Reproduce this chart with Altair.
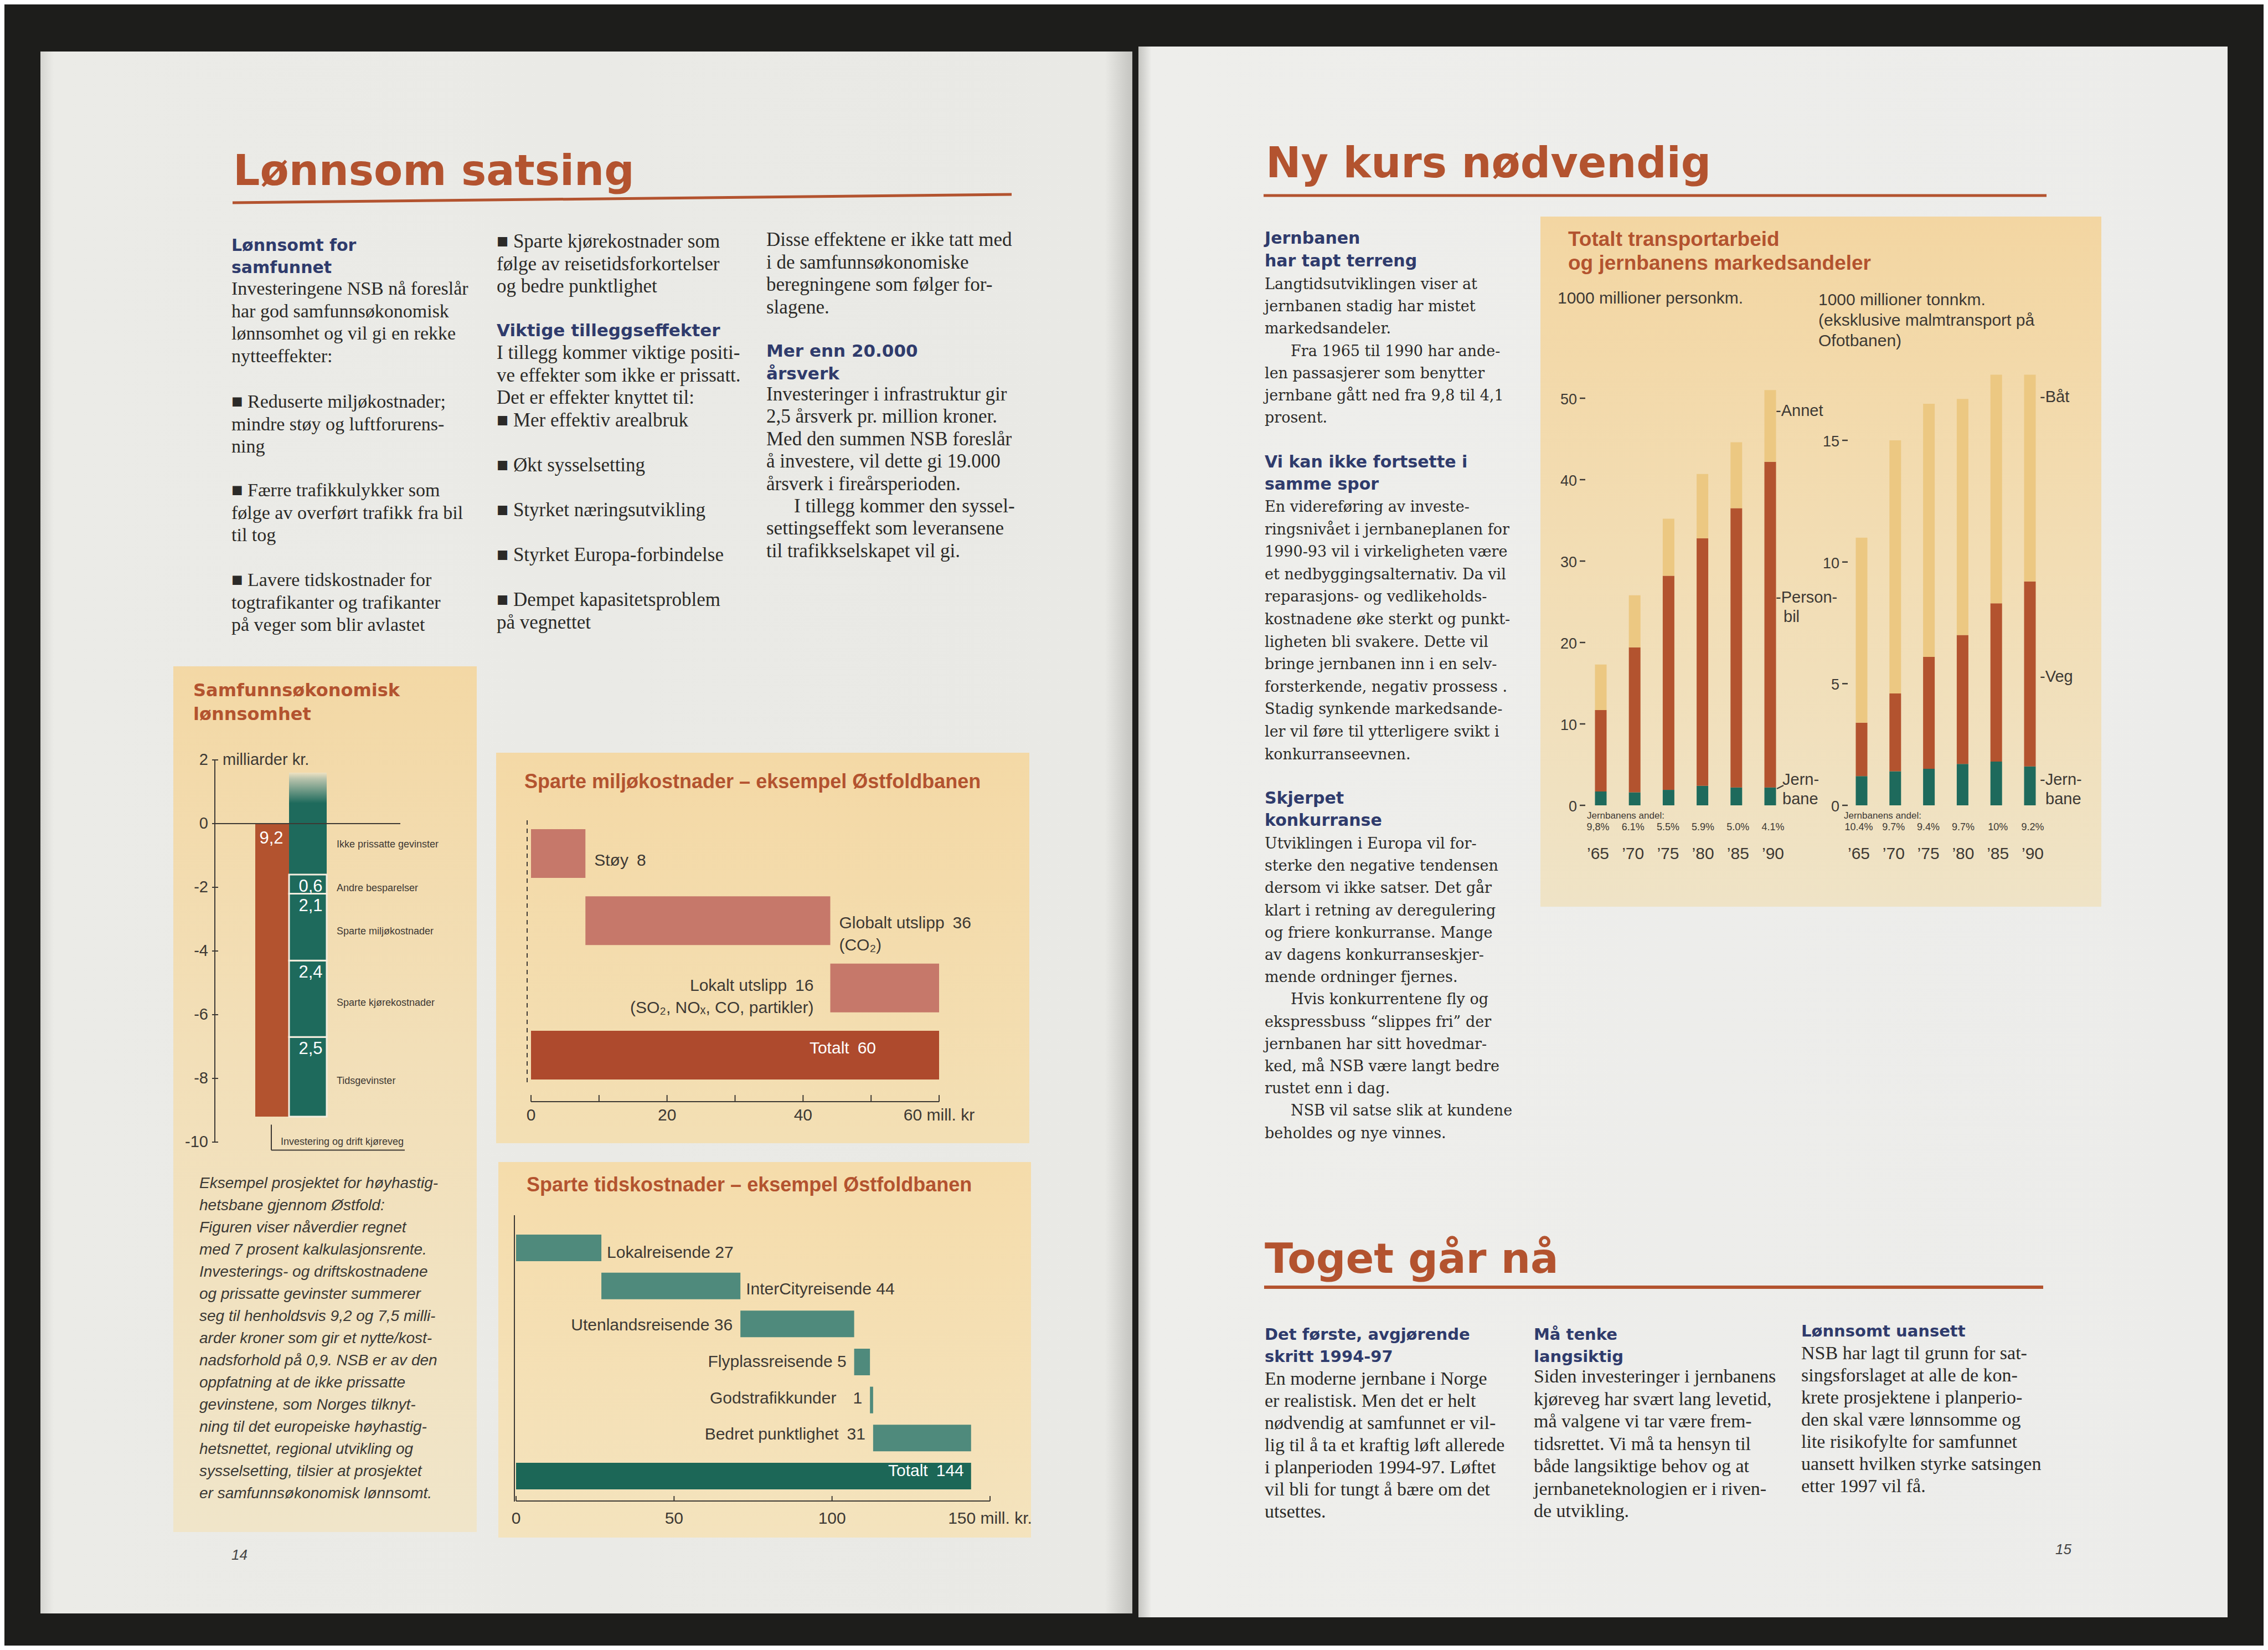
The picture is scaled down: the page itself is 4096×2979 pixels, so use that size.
import altair as alt
import pandas as pd

OFF = 8  # page margin of the html page


def P(v):
    return v - OFF


# ---------------- colours / fonts ----------------
BACK = "#1d1d1b"
RED = "#b3532f"
TEAL = "#1e6a5c"
TAN = "#ecc882"
NAVY = "#2f3b6c"
INK = "#2b2a28"
CH_INK = "#3d3934"
ENV_LIGHT = "#c6786a"
ENV_DARK = "#ae4a2d"
TIME_LIGHT = "#4f8a7c"
TIME_DARK = "#1c6757"
SEP = "#f6eedf"

HEAD_FONT = "DejaVu Sans"
BODY_FONT = "Liberation Serif"
WIDE_SERIF = "DejaVu Serif"
CH_FONT = "Liberation Sans"

# ---------------- data: Samfunnsøkonomisk lønnsomhet ----------------
cost_label = "Investering og drift kjøreveg"
cost_value = 9.2
cost_value_label = "9,2"
benefit_names = ["Tidsgevinster", "Sparte kjørekostnader", "Sparte miljøkostnader", "Andre besparelser"]
benefit_values = [2.5, 2.4, 2.1, 0.6]
benefit_value_labels = ["2,5", "2,4", "2,1", "0,6"]
unpriced_name = "Ikke prissatte gevinster"
unpriced_top = 1.6  # top of the fading (unpriced) part, estimated
samf_ticks = [2, 0, -2, -4, -6, -8, -10]
samf_unit = "milliarder kr."

# ---------------- data: Sparte miljøkostnader ----------------
env_cats = ["Støy", "Globalt utslipp", "Lokalt utslipp", "Totalt"]
env_values = [8, 36, 16, 60]
env_labels = ["Støy\u20028", "Globalt utslipp\u200236\n(CO\u2082)",
              "Lokalt utslipp\u200216\n(SO\u2082, NO\u2093, CO, partikler)", "Totalt\u200260"]
env_ticks = [0, 10, 20, 30, 40, 50, 60]
env_tick_labels = ["0", "", "20", "", "40", "", "60 mill. kr"]

# ---------------- data: Sparte tidskostnader ----------------
time_cats = ["Lokalreisende", "InterCityreisende", "Utenlandsreisende", "Flyplassreisende",
             "Godstrafikkunder", "Bedret punktlighet", "Totalt"]
time_values = [27, 44, 36, 5, 1, 31, 144]
time_labels = ["Lokalreisende 27", "InterCityreisende 44", "Utenlandsreisende 36", "Flyplassreisende 5",
               "Godstrafikkunder\u2002\u20021", "Bedret punktlighet\u200231", "Totalt\u2002144"]
time_ticks = [0, 50, 100, 150]
time_tick_labels = ["0", "50", "100", "150 mill. kr."]

# ---------------- data: Totalt transportarbeid ----------------
years = [1965, 1970, 1975, 1980, 1985, 1990]
year_labels = ["\u201965", "\u201970", "\u201975", "\u201980", "\u201985", "\u201990"]
pkm_rail = [1.7, 1.6, 1.9, 2.4, 2.2, 2.2]
pkm_car = [10.0, 17.8, 26.3, 30.4, 34.3, 40.0]
pkm_other = [5.6, 6.4, 7.0, 7.9, 8.1, 8.8]
pkm_share = ["9,8%", "6.1%", "5.5%", "5.9%", "5.0%", "4.1%"]
tkm_rail = [1.2, 1.4, 1.5, 1.7, 1.8, 1.6]
tkm_road = [2.2, 3.2, 4.6, 5.3, 6.5, 7.6]
tkm_boat = [7.6, 10.4, 10.4, 9.7, 9.4, 8.5]
tkm_share = ["10.4%", "9.7%", "9.4%", "9.7%", "10%", "9.2%"]
pkm_ticks = [0, 10, 20, 30, 40, 50]
tkm_ticks = [0, 5, 10, 15]
pkm_series = ["Jernbane", "Personbil", "Annet"]
tkm_series = ["Jernbane", "Veg", "Båt"]

# ---------------- page text ----------------
left_title = "Lønnsom satsing"
right_title = "Ny kurs nødvendig"
bottom_title = "Toget går nå"

c1_head = ["Lønnsomt for", "samfunnet"]
c1_body = ["Investeringene NSB nå foreslår", "har god samfunnsøkonomisk",
           "lønnsomhet og vil gi en rekke", "nytteeffekter:"]
c1_b1 = ["\u25A0 Reduserte miljøkostnader;", "mindre støy og luftforurens-", "ning"]
c1_b2 = ["\u25A0 Færre trafikkulykker som", "følge av overført trafikk fra bil", "til tog"]
c1_b3 = ["\u25A0 Lavere tidskostnader for", "togtrafikanter og trafikanter", "på veger som blir avlastet"]

c2_b1 = ["\u25A0 Sparte kjørekostnader som", "følge av reisetidsforkortelser", "og bedre punktlighet"]
c2_head = ["Viktige tilleggseffekter"]
c2_body = ["I tillegg kommer viktige positi-", "ve effekter som ikke er prissatt.",
           "Det er effekter knyttet til:", "\u25A0 Mer effektiv arealbruk"]
c2_b2 = ["\u25A0 Økt sysselsetting"]
c2_b3 = ["\u25A0 Styrket næringsutvikling"]
c2_b4 = ["\u25A0 Styrket Europa-forbindelse"]
c2_b5 = ["\u25A0 Dempet kapasitetsproblem", "på vegnettet"]

c3_body1 = ["Disse effektene er ikke tatt med", "i de samfunnsøkonomiske",
            "beregningene som følger for-", "slagene."]
c3_head = ["Mer enn 20.000", "årsverk"]
c3_body2 = ["Investeringer i infrastruktur gir", "2,5 årsverk pr. million kroner.",
            "Med den summen NSB foreslår", "å investere, vil dette gi 19.000",
            "årsverk i fireårsperioden.", "I tillegg kommer den syssel-",
            "settingseffekt som leveransene", "til trafikkselskapet vil gi."]
c3_body2_indent = {5}

caption = ["Eksempel prosjektet for høyhastig-", "hetsbane gjennom Østfold:",
           "Figuren viser nåverdier regnet", "med 7 prosent kalkulasjonsrente.",
           "Investerings- og driftskostnadene", "og prissatte gevinster summerer",
           "seg til henholdsvis 9,2 og 7,5 milli-", "arder kroner som gir et nytte/kost-",
           "nadsforhold på 0,9. NSB er av den", "oppfatning at de ikke prissatte",
           "gevinstene, som Norges tilknyt-", "ning til det europeiske høyhastig-",
           "hetsnettet, regional utvikling og", "sysselsetting, tilsier at prosjektet",
           "er samfunnsøkonomisk lønnsomt."]

r_head1 = ["Jernbanen", "har tapt terreng"]
r_body1 = ["Langtidsutviklingen viser at", "jernbanen stadig har mistet", "markedsandeler.",
           "Fra 1965 til 1990 har ande-", "len passasjerer som benytter",
           "jernbane gått ned fra 9,8 til 4,1", "prosent."]
r_body1_indent = {3}
r_head2 = ["Vi kan ikke fortsette i", "samme spor"]
r_body2 = ["En videreføring av investe-", "ringsnivået i jernbaneplanen for",
           "1990-93 vil i virkeligheten være", "et nedbyggingsalternativ. Da vil",
           "reparasjons- og vedlikeholds-", "kostnadene øke sterkt og punkt-",
           "ligheten bli svakere. Dette vil", "bringe jernbanen inn i en selv-",
           "forsterkende, negativ prossess .", "Stadig synkende markedsande-",
           "ler vil føre til ytterligere svikt i", "konkurranseevnen."]
r_head3 = ["Skjerpet", "konkurranse"]
r_body3 = ["Utviklingen i Europa vil for-", "sterke den negative tendensen",
           "dersom vi ikke satser. Det går", "klart i retning av deregulering",
           "og friere konkurranse. Mange", "av dagens konkurranseskjer-",
           "mende ordninger fjernes.", "Hvis konkurrentene fly og",
           "ekspressbuss \u201cslippes fri\u201d der", "jernbanen har sitt hovedmar-",
           "ked, må NSB være langt bedre", "rustet enn i dag.",
           "NSB vil satse slik at kundene", "beholdes og nye vinnes."]
r_body3_indent = {7, 12}

b1_head = ["Det første, avgjørende", "skritt 1994-97"]
b1_body = ["En moderne jernbane i Norge", "er realistisk. Men det er helt",
           "nødvendig at samfunnet er vil-", "lig til å ta et kraftig løft allerede",
           "i planperioden 1994-97. Løftet", "vil bli for tungt å bære om det", "utsettes."]
b2_head = ["Må tenke", "langsiktig"]
b2_body = ["Siden investeringer i jernbanens", "kjøreveg har svært lang levetid,",
           "må valgene vi tar være frem-", "tidsrettet. Vi må ta hensyn til",
           "både langsiktige behov og at", "jernbaneteknologien er i riven-", "de utvikling."]
b3_head = ["Lønnsomt uansett"]
b3_body = ["NSB har lagt til grunn for sat-", "singsforslaget at alle de kon-",
           "krete prosjektene i planperio-", "den skal være lønnsomme og",
           "lite risikofylte for samfunnet", "uansett hvilken styrke satsingen", "etter 1997 vil få."]

# ---------------- helpers ----------------
ONE = pd.DataFrame({"a": [0]})
layers = []


def grad(stops, vertical=True):
    return alt.Gradient(gradient="linear",
                        stops=[alt.GradientStop(color=c, offset=o) for o, c in stops],
                        x1=0, y1=0, x2=0 if vertical else 1, y2=1 if vertical else 0)


def box(x1, y1, x2, y2, color):
    layers.append(alt.Chart(ONE).mark_rect(color=color).encode(
        x=alt.value(P(x1)), x2=alt.value(P(x2)), y=alt.value(P(y1)), y2=alt.value(P(y2))))


def block(lines, x, y, size, font=BODY_FONT, color=INK, weight="normal", style="normal",
          lh=40.5, align="left", baseline="alphabetic"):
    df = pd.DataFrame({"t": ["\n".join(lines)]})
    layers.append(alt.Chart(df).mark_text(
        font=font, fontSize=size, color=color, fontWeight=weight, fontStyle=style,
        align=align, baseline=baseline, lineBreak="\n", lineHeight=lh).encode(
        x=alt.value(P(x)), y=alt.value(P(y)), text="t:N"))


def para(lines, x, y, size, indent_lines=(), indent=48, lh=40.5, **kw):
    i = 0
    while i < len(lines):
        ind = i in indent_lines
        j = i
        while j < len(lines) and ((j in indent_lines) == ind):
            j += 1
        block(lines[i:j], x + (indent if ind else 0), y + i * lh, size, lh=lh, **kw)
        i = j


def line(x1, y1, x2, y2, color, w):
    layers.append(alt.Chart(ONE).mark_rule(color=color, strokeWidth=w).encode(
        x=alt.value(P(x1)), x2=alt.value(P(x2)), y=alt.value(P(y1)), y2=alt.value(P(y2))))


# ---------------- pages ----------------
box(73, 93, 2045, 2913, grad([(0, "#d5d5d1"), (0.012, "#ebebe7"), (0.975, "#e9e9e5"), (1, "#c4c4c0")], vertical=False))
box(2056, 84, 4023, 2920, grad([(0, "#c4c4c0"), (0.012, "#eeeeeb"), (1, "#ececea")], vertical=False))

# titles
block([left_title], 421, 334, 76, font=HEAD_FONT, color=RED, weight="bold")
line(420, 366, 1827, 351, RED, 5)
block([right_title], 2286, 320, 76, font=HEAD_FONT, color=RED, weight="bold")
line(2282, 353, 3696, 353, RED, 5)
block([bottom_title], 2284, 2298, 75, font=HEAD_FONT, color=RED, weight="bold")
line(2283, 2324, 3690, 2324, RED, 6)

# left page text columns
block(c1_head, 418, 453, 30, font=HEAD_FONT, color=NAVY, weight="bold", lh=40)
block(c1_body, 418, 532, 34)
block(c1_b1, 418, 736, 34)
block(c1_b2, 418, 896, 34)
block(c1_b3, 418, 1058, 34)

block(c2_b1, 897, 447, 35)
block(c2_head, 897, 607, 31, font=HEAD_FONT, color=NAVY, weight="bold")
block(c2_body, 897, 648, 35)
block(c2_b2, 897, 851, 35)
block(c2_b3, 897, 932, 35)
block(c2_b4, 897, 1013, 35)
block(c2_b5, 897, 1094, 35)

block(c3_body1, 1384, 444, 35)
block(c3_head, 1384, 644, 31, font=HEAD_FONT, color=NAVY, weight="bold", lh=41)
para(c3_body2, 1384, 723, 35, indent_lines=c3_body2_indent, indent=50, lh=40.4)

# right page column
block(r_head1, 2284, 440, 30, font=HEAD_FONT, color=NAVY, weight="bold", lh=41)
para(r_body1, 2284, 522, 27, indent_lines=r_body1_indent, indent=47, font=WIDE_SERIF, lh=40.2)
block(r_head2, 2284, 844, 30, font=HEAD_FONT, color=NAVY, weight="bold", lh=40)
para(r_body2, 2284, 924, 27, font=WIDE_SERIF, lh=40.6)
block(r_head3, 2284, 1451, 30, font=HEAD_FONT, color=NAVY, weight="bold", lh=40)
para(r_body3, 2284, 1532, 27, indent_lines=r_body3_indent, indent=47, font=WIDE_SERIF, lh=40.2)

# bottom columns
block(b1_head, 2284, 2419, 29, font=HEAD_FONT, color=NAVY, weight="bold", lh=40)
block(b1_body, 2284, 2500, 34, lh=40)
block(b2_head, 2770, 2419, 29, font=HEAD_FONT, color=NAVY, weight="bold", lh=40)
block(b2_body, 2770, 2496, 34, lh=40.5)
block(b3_head, 3253, 2413, 29, font=HEAD_FONT, color=NAVY, weight="bold")
block(b3_body, 3253, 2454, 34, lh=40)

# page numbers
block(["14"], 418, 2816, 26, font=CH_FONT, style="italic", color="#444")
block(["15"], 3712, 2806, 26, font=CH_FONT, style="italic", color="#444")

# ---------------- panels ----------------
box(313, 1203, 861, 2766, grad([(0, "#f3d8a5"), (0.45, "#f2dfb8"), (1, "#f0e5c9")]))
box(896, 1359, 1859, 2064, grad([(0, "#f4d9a6"), (1, "#f3dfb4")]))
box(900, 2098, 1862, 2776, grad([(0, "#f5dcab"), (1, "#f4e3bd")]))
box(2782, 391, 3795, 1637, grad([(0, "#f3d6a2"), (0.5, "#f2ddb4"), (1, "#efe3c6")]))

# ================= Samfunnsøkonomisk lønnsomhet =================
SX = alt.Scale(domain=[0, 1], range=[P(490), P(561)], nice=False, zero=False)
SY = alt.Scale(domain=[-10, 2], range=[P(2062), P(1372)], nice=False, zero=False)

block(["Samfunnsøkonomisk", "lønnsomhet"], 349, 1257, 32, font=HEAD_FONT, color=RED, weight="bold", lh=43)

tick_df = pd.DataFrame({"v": samf_ticks, "t": [str(v) for v in samf_ticks]})
layers.append(alt.Chart(pd.DataFrame({"a": [samf_ticks[0]], "b": [samf_ticks[-1]]})).mark_rule(
    color=CH_INK, strokeWidth=2).encode(x=alt.value(P(388)), y=alt.Y("a:Q", scale=SY, axis=None), y2="b:Q"))
layers.append(alt.Chart(tick_df).mark_rule(color=CH_INK, strokeWidth=2).encode(
    x=alt.value(P(383)), x2=alt.value(P(394)), y=alt.Y("v:Q", scale=SY, axis=None)))
layers.append(alt.Chart(tick_df).mark_text(font=CH_FONT, fontSize=29, color=CH_INK, align="right",
                                           baseline="middle").encode(
    x=alt.value(P(376)), y=alt.Y("v:Q", scale=SY, axis=None), text="t:N"))
layers.append(alt.Chart(pd.DataFrame({"v": [samf_ticks[0]], "t": [samf_unit]})).mark_text(
    font=CH_FONT, fontSize=29, color=CH_INK, align="left", baseline="middle").encode(
    x=alt.value(P(402)), y=alt.Y("v:Q", scale=SY, axis=None), text="t:N"))

# cost bar
cost_df = pd.DataFrame({"x": [0], "y0": [0.0], "y1": [-cost_value], "t": [cost_value_label]})
layers.append(alt.Chart(cost_df).mark_bar(size=68, color=RED).encode(
    x=alt.X("x:Q", scale=SX, axis=None), y=alt.Y("y0:Q", scale=SY, axis=None), y2="y1:Q"))
layers.append(alt.Chart(cost_df).mark_text(font=CH_FONT, fontSize=31, color="white", baseline="middle",
                                           dy=27).encode(
    x=alt.X("x:Q", scale=SX, axis=None), y=alt.Y("y0:Q", scale=SY, axis=None), text="t:N"))

# benefit stack
rows = []
bottom = -cost_value
for n, v, lab in zip(benefit_names, benefit_values, benefit_value_labels):
    rows.append({"x": 1, "name": n, "y0": bottom, "y1": bottom + v, "mid": bottom + v / 2, "lab": lab})
    bottom += v
ben_df = pd.DataFrame(rows)
unp_df = pd.DataFrame({"x": [1], "y0": [bottom], "y1": [unpriced_top], "name": [unpriced_name],
                       "mid": [bottom / 2]})
layers.append(alt.Chart(unp_df).mark_bar(size=68, color=grad([(0, "#efe2c2"), (0.06, "#b8c3ac"),
                                                              (0.3, TEAL), (1, TEAL)])).encode(
    x=alt.X("x:Q", scale=SX, axis=None), y=alt.Y("y1:Q", scale=SY, axis=None), y2="y0:Q"))
layers.append(alt.Chart(ben_df).mark_bar(size=68, color=TEAL, stroke=SEP, strokeWidth=3).encode(
    x=alt.X("x:Q", scale=SX, axis=None), y=alt.Y("y1:Q", scale=SY, axis=None), y2="y0:Q"))
layers.append(alt.Chart(ben_df).mark_text(font=CH_FONT, fontSize=31, color="white", baseline="middle",
                                          dy=22).encode(
    x=alt.X("x:Q", scale=SX, axis=None), y=alt.Y("y1:Q", scale=SY, axis=None), text="lab:N"))
layers.append(alt.Chart(ben_df).mark_text(font=CH_FONT, fontSize=18, color=CH_INK, align="left",
                                          baseline="middle", dx=47, dy=8).encode(
    x=alt.X("x:Q", scale=SX, axis=None), y=alt.Y("mid:Q", scale=SY, axis=None), text="name:N"))
layers.append(alt.Chart(unp_df).mark_text(font=CH_FONT, fontSize=18, color=CH_INK, align="left",
                                          baseline="middle", dx=47, dy=-8).encode(
    x=alt.X("x:Q", scale=SX, axis=None), y=alt.Y("mid:Q", scale=SY, axis=None), text="name:N"))

# zero line
layers.append(alt.Chart(pd.DataFrame({"v": [0]})).mark_rule(color=CH_INK, strokeWidth=2).encode(
    x=alt.value(P(388)), x2=alt.value(P(723)), y=alt.Y("v:Q", scale=SY, axis=None)))
# bracket for the cost label
layers.append(alt.Chart(pd.DataFrame({"x": [0], "a": [-9.45], "b": [-10.25]})).mark_rule(
    color=CH_INK, strokeWidth=2).encode(
    x=alt.X("x:Q", scale=SX, axis=None), y=alt.Y("a:Q", scale=SY, axis=None), y2="b:Q"))
layers.append(alt.Chart(pd.DataFrame({"x": [0], "b": [-10.25]})).mark_rule(
    color=CH_INK, strokeWidth=2).encode(
    x=alt.X("x:Q", scale=SX, axis=None), x2=alt.value(P(731)), y=alt.Y("b:Q", scale=SY, axis=None)))
layers.append(alt.Chart(pd.DataFrame({"x": [0], "v": [-10.0], "t": [cost_label]})).mark_text(
    font=CH_FONT, fontSize=18, color=CH_INK, align="left", baseline="middle", dx=17).encode(
    x=alt.X("x:Q", scale=SX, axis=None), y=alt.Y("v:Q", scale=SY, axis=None), text="t:N"))

block(caption, 360, 2145, 28, font=CH_FONT, style="italic", color="#3b3935", lh=40)

# ================= Sparte miljøkostnader =================
EX = alt.Scale(domain=[0, 60], range=[P(959), P(1696)], nice=False, zero=False)
EY = alt.Scale(domain=env_cats, range=[P(1497), P(1949)], paddingInner=0.275, paddingOuter=0)
block(["Sparte miljøkostnader \u2013 eksempel Østfoldbanen"], 947, 1423, 36, font=CH_FONT, color=RED,
      weight="bold")

starts, s = [], 0
for c, v in zip(env_cats, env_values):
    if c == "Totalt":
        starts.append(0)
    else:
        starts.append(s)
        s += v
env_df = pd.DataFrame({"cat": env_cats, "start": starts,
                       "end": [a + b for a, b in zip(starts, env_values)], "lab": env_labels})
env_parts = env_df[env_df.cat != "Totalt"]
env_tot = env_df[env_df.cat == "Totalt"]

layers.append(alt.Chart(pd.DataFrame({"a": [0]})).mark_rule(color=CH_INK, strokeWidth=2,
                                                            strokeDash=[8, 7]).encode(
    x=alt.value(P(952)), y=alt.value(P(1481)), y2=alt.value(P(1960))))
layers.append(alt.Chart(env_parts).mark_bar(color=ENV_LIGHT).encode(
    x=alt.X("start:Q", scale=EX, axis=None), x2="end:Q", y=alt.Y("cat:N", scale=EY, axis=None)))
layers.append(alt.Chart(env_tot).mark_bar(color=ENV_DARK).encode(
    x=alt.X("start:Q", scale=EX, axis=None), x2="end:Q", y=alt.Y("cat:N", scale=EY, axis=None)))
env_left = ["Støy", "Globalt utslipp"]
layers.append(alt.Chart(env_df[env_df.cat.isin(env_left)]).mark_text(
    font=CH_FONT, fontSize=30, color=CH_INK, align="left", baseline="middle", dx=16,
    lineBreak="\n", lineHeight=40).encode(
    x=alt.X("end:Q", scale=EX, axis=None), y=alt.Y("cat:N", scale=EY, axis=None), text="lab:N"))
layers.append(alt.Chart(env_df[env_df.cat == "Lokalt utslipp"]).mark_text(
    font=CH_FONT, fontSize=30, color=CH_INK, align="right", baseline="middle", dx=-30,
    lineBreak="\n", lineHeight=40).encode(
    x=alt.X("start:Q", scale=EX, axis=None), y=alt.Y("cat:N", scale=EY, axis=None), text="lab:N"))
layers.append(alt.Chart(env_tot).mark_text(
    font=CH_FONT, fontSize=30, color="white", align="right", baseline="middle", dx=-114).encode(
    x=alt.X("end:Q", scale=EX, axis=None), y=alt.Y("cat:N", scale=EY, axis=None), text="lab:N"))
# x axis
env_tick_df = pd.DataFrame({"v": env_ticks, "t": env_tick_labels})
layers.append(alt.Chart(pd.DataFrame({"a": [env_ticks[0]], "b": [env_ticks[-1]]})).mark_rule(
    color=CH_INK, strokeWidth=2).encode(x=alt.X("a:Q", scale=EX, axis=None), x2="b:Q", y=alt.value(P(1989))))
layers.append(alt.Chart(env_tick_df).mark_rule(color=CH_INK, strokeWidth=2).encode(
    x=alt.X("v:Q", scale=EX, axis=None), y=alt.value(P(1977)), y2=alt.value(P(1989))))
layers.append(alt.Chart(env_tick_df).mark_text(font=CH_FONT, fontSize=30, color=CH_INK,
                                               baseline="middle").encode(
    x=alt.X("v:Q", scale=EX, axis=None), y=alt.value(P(2014)), text="t:N"))

# ================= Sparte tidskostnader =================
TX = alt.Scale(domain=[0, 150], range=[P(932), P(1788)], nice=False, zero=False)
TY = alt.Scale(domain=time_cats, range=[P(2229), P(2689)], paddingInner=0.30, paddingOuter=0)
block(["Sparte tidskostnader \u2013 eksempel Østfoldbanen"], 951, 2151, 36, font=CH_FONT, color=RED,
      weight="bold")

starts, s = [], 0
for c, v in zip(time_cats, time_values):
    if c == "Totalt":
        starts.append(0)
    else:
        starts.append(s)
        s += v
time_df = pd.DataFrame({"cat": time_cats, "start": starts,
                        "end": [a + b for a, b in zip(starts, time_values)], "lab": time_labels})
time_parts = time_df[time_df.cat != "Totalt"]
time_tot = time_df[time_df.cat == "Totalt"]
time_left = ["Lokalreisende", "InterCityreisende"]

layers.append(alt.Chart(pd.DataFrame({"a": [0]})).mark_rule(color=CH_INK, strokeWidth=2).encode(
    x=alt.value(P(929)), y=alt.value(P(2194)), y2=alt.value(P(2711))))
layers.append(alt.Chart(time_parts).mark_bar(color=TIME_LIGHT).encode(
    x=alt.X("start:Q", scale=TX, axis=None), x2="end:Q", y=alt.Y("cat:N", scale=TY, axis=None)))
layers.append(alt.Chart(time_tot).mark_bar(color=TIME_DARK).encode(
    x=alt.X("start:Q", scale=TX, axis=None), x2="end:Q", y=alt.Y("cat:N", scale=TY, axis=None)))
layers.append(alt.Chart(time_df[time_df.cat.isin(time_left)]).mark_text(
    font=CH_FONT, fontSize=30, color=CH_INK, align="left", baseline="middle", dx=10).encode(
    x=alt.X("end:Q", scale=TX, axis=None), y=alt.Y("cat:N", scale=TY, axis=None), text="lab:N"))
layers.append(alt.Chart(time_parts[~time_parts.cat.isin(time_left)]).mark_text(
    font=CH_FONT, fontSize=30, color=CH_INK, align="right", baseline="middle", dx=-14).encode(
    x=alt.X("start:Q", scale=TX, axis=None), y=alt.Y("cat:N", scale=TY, axis=None), text="lab:N"))
layers.append(alt.Chart(time_tot).mark_text(
    font=CH_FONT, fontSize=30, color="white", align="right", baseline="middle", dx=-13).encode(
    x=alt.X("end:Q", scale=TX, axis=None), y=alt.Y("cat:N", scale=TY, axis=None), text="lab:N"))
time_tick_df = pd.DataFrame({"v": time_ticks, "t": time_tick_labels})
layers.append(alt.Chart(pd.DataFrame({"a": [time_ticks[0]], "b": [time_ticks[-1]]})).mark_rule(
    color=CH_INK, strokeWidth=2).encode(x=alt.X("a:Q", scale=TX, axis=None), x2="b:Q", y=alt.value(P(2710))))
layers.append(alt.Chart(time_tick_df).mark_rule(color=CH_INK, strokeWidth=2).encode(
    x=alt.X("v:Q", scale=TX, axis=None), y=alt.value(P(2701)), y2=alt.value(P(2710))))
layers.append(alt.Chart(time_tick_df).mark_text(font=CH_FONT, fontSize=30, color=CH_INK,
                                                baseline="middle").encode(
    x=alt.X("v:Q", scale=TX, axis=None), y=alt.value(P(2742)), text="t:N"))

# ================= Totalt transportarbeid =================
block(["Totalt transportarbeid", "og jernbanens markedsandeler"], 2832, 444, 37, font=CH_FONT, color=RED,
      weight="bold", lh=43)
block(["1000 millioner personkm."], 2813, 548, 30, font=CH_FONT, color=CH_INK)
block(["1000 millioner tonnkm.", "(eksklusive malmtransport på", "Ofotbanen)"], 3284, 551, 30,
      font=CH_FONT, color=CH_INK, lh=37)


def transport(xr, yr, ymax, ticks, tick_x, rail, mid, top, names, shares, colors):
    XS = alt.Scale(domain=[years[0], years[-1]], range=xr, nice=False, zero=False)
    YS = alt.Scale(domain=[0, ymax], range=yr, nice=False, zero=False)
    rows = []
    for i, yv in enumerate(years):
        b = 0.0
        for nm, arr in zip(names, [rail, mid, top]):
            rows.append({"year": yv, "seg": nm, "y0": b, "y1": b + arr[i]})
            b += arr[i]
    df = pd.DataFrame(rows)
    out = [alt.Chart(df).mark_bar(size=21).encode(
        x=alt.X("year:Q", scale=XS, axis=None),
        y=alt.Y("y0:Q", scale=YS, axis=None), y2="y1:Q",
        color=alt.Color("seg:N", scale=alt.Scale(domain=names, range=colors), legend=None))]
    tdf = pd.DataFrame({"v": ticks, "t": [str(v) for v in ticks]})
    out.append(alt.Chart(tdf).mark_text(font=CH_FONT, fontSize=27, color=CH_INK, align="right",
                                        baseline="middle", dy=3).encode(
        x=alt.value(P(tick_x)), y=alt.Y("v:Q", scale=YS, axis=None), text="t:N"))
    out.append(alt.Chart(tdf).mark_rule(color=CH_INK, strokeWidth=2.5).encode(
        x=alt.value(P(tick_x + 5)), x2=alt.value(P(tick_x + 15)), y=alt.Y("v:Q", scale=YS, axis=None)))
    ldf = pd.DataFrame({"year": years, "share": shares, "yl": year_labels})
    out.append(alt.Chart(ldf).mark_text(font=CH_FONT, fontSize=18, color=CH_INK, baseline="middle").encode(
        x=alt.X("year:Q", scale=XS, axis=None), y=alt.value(P(1494)), text="share:N"))
    out.append(alt.Chart(ldf).mark_text(font=CH_FONT, fontSize=30, color=CH_INK, baseline="middle").encode(
        x=alt.X("year:Q", scale=XS, axis=None), y=alt.value(P(1542)), text="yl:N"))
    return out, XS


pk_layers, PKX = transport([P(2886), P(3202)], [P(1454), P(719)], 50, pkm_ticks, 2848,
                           pkm_rail, pkm_car, pkm_other, pkm_series, pkm_share, [TEAL, RED, TAN])
tk_layers, TKX = transport([P(3357), P(3671)], [P(1454), P(795)], 15, tkm_ticks, 3322,
                           tkm_rail, tkm_road, tkm_boat, tkm_series, tkm_share, [TEAL, RED, TAN])
layers += pk_layers + tk_layers
block(["Jernbanens andel:"], 2866, 1478, 17, font=CH_FONT, color=CH_INK)
block(["Jernbanens andel:"], 3330, 1478, 17, font=CH_FONT, color=CH_INK)


def series_label(XS, text, y, dx):
    df = pd.DataFrame({"year": [years[-1]], "t": [text]})
    layers.append(alt.Chart(df).mark_text(font=CH_FONT, fontSize=29, color=CH_INK, align="left",
                                          baseline="middle", dx=dx).encode(
        x=alt.X("year:Q", scale=XS, axis=None), y=alt.value(P(y)), text="t:N"))


series_label(PKX, "-Annet", 742, 5)
series_label(PKX, "-Person-", 1079, 5)
series_label(PKX, "bil", 1114, 19)
series_label(PKX, "Jern-", 1408, 17)
series_label(PKX, "bane", 1443, 17)
series_label(TKX, "-Båt", 717, 13)
series_label(TKX, "-Veg", 1222, 13)
series_label(TKX, "-Jern-", 1408, 13)
series_label(TKX, "bane", 1443, 23)
# small leader from the 1990 rail segment to its label
line(3209, 1424, 3221, 1418, CH_INK, 2)

chart = alt.layer(*layers).resolve_scale(x="independent", y="independent", color="independent").properties(
    width=4080, height=2963, padding=0, background=BACK,
    autosize=alt.AutoSizeParams(type="fit", contains="padding"),
).configure_view(stroke=None)

chart.save("out.html", embed_options={"renderer": "svg", "actions": False})
